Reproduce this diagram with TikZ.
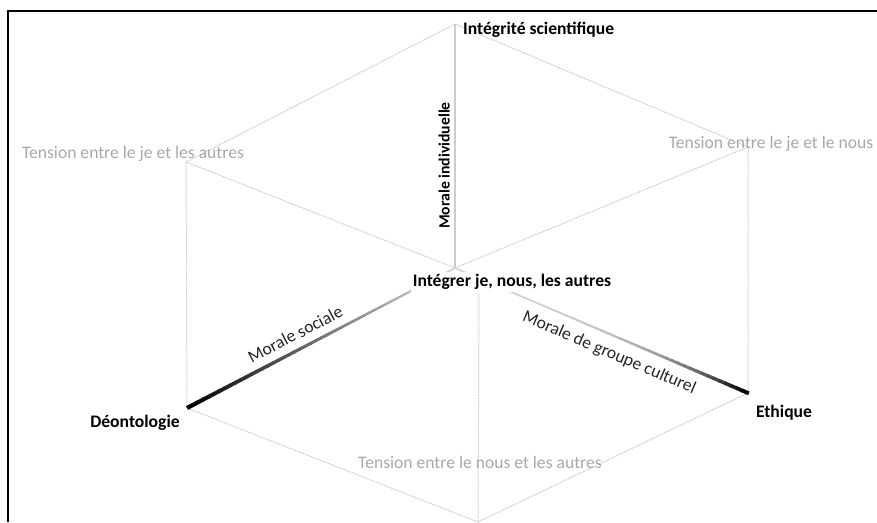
\documentclass[tikz,border=0pt]{standalone}
\usepackage{fontspec}
\setmainfont{Carlito}
\usetikzlibrary{calc}
\colorlet{lightline}{black!18}
\begin{document}
\begin{tikzpicture}[x=1pt,y=-1pt,
  edge/.style={draw=black!18, line width=1pt, dash pattern=on 2pt off 0.8pt},
  lbl/.style={inner sep=0pt, font=\fontsize{17.6}{20}\selectfont},
  key/.style={lbl, font=\fontsize{17.6}{20}\selectfont\bfseries, text=black},
  tenslbl/.style={lbl, text=black!34},
  axislbl/.style={inner sep=0pt, font=\fontsize{17.6}{20}\selectfont, text=black!85}
]
\useasboundingbox (0,0) rectangle (877,522);
% frame
\coordinate (F1) at (8,522);
\coordinate (F2) at (8,11);
\coordinate (F3) at (877,11);
\draw[line width=1.6pt] (F1) -- (F2) -- (F3);
% cube vertices
\coordinate (T) at (455,24);
\coordinate (UL) at (186,162);
\coordinate (UR) at (748,147);
\coordinate (C) at (455,268);
\coordinate (Cb) at (479,285);
\coordinate (LL) at (187,408);
\coordinate (LR) at (748,393);
\coordinate (B) at (478,522);
% faint edges
\draw[edge] (T) -- (UL) -- (LL) -- (B) -- (LR) -- (UR) -- cycle;
\draw[edge] (UL) -- (C) -- (UR);
\draw[edge] (Cb) -- (B);
% vertical axis
\draw[black!20, line width=2.6pt] (T) -- (C);
% Morale sociale gradient
\foreach \i in {1,...,50}{
  \pgfmathsetmacro\ta{(\i-1)/50}
  \pgfmathsetmacro\tb{\i/50+0.003}
  \pgfmathsetmacro\dk{100*(1-\ta)^1.2}
  \pgfmathsetmacro\lw{1.6+2.6*(1-\ta)}
  \draw[line width=\lw pt, color=black!\dk!lightline] ($(LL)!\ta!(C)$) -- ($(LL)!\tb!(C)$);
}
% Morale de groupe gradient
\foreach \i in {1,...,50}{
  \pgfmathsetmacro\ta{(\i-1)/50}
  \pgfmathsetmacro\tb{\i/50+0.003}
  \pgfmathsetmacro\dk{100*(\tb)^4}
  \pgfmathsetmacro\lw{1.6+2.4*(\ta)^2}
  \draw[line width=\lw pt, color=black!\dk!lightline] ($(C)!\ta!(LR)$) -- ($(C)!\tb!(LR)$);
}
% axis labels
\path (LL) -- (C) node[axislbl, sloped, above=9pt, pos=0.43] (msoc) {Morale sociale};
\path (C) -- (LR) node[axislbl, sloped, below=10pt, pos=0.55] (mgrp) {Morale de groupe culturel};
\path (C) -- (T) node[axislbl, sloped, above=5pt, pos=0.42, text=black, font=\fontsize{15.7}{18}\selectfont\bfseries] (mind) {Morale individuelle};
% vertex labels
\node[key, anchor=west] (top) at (463,30) {Intégrité scientifique};
\node[tenslbl] (tul) at (133,154) {Tension entre le je et les autres};
\node[tenslbl] (tur) at (771,144) {Tension entre le je et le nous};
\node[tenslbl] (tb) at (480,462) {Tension entre le nous et les autres};
\node[key] (deon) at (135,423) {Déontologie};
\node[key] (eth) at (784,413) {Ethique};
\node[key, fill=white, inner sep=2pt] (ctr) at (512,282) {Intégrer je, nous, les autres};
\end{tikzpicture}
\end{document}
